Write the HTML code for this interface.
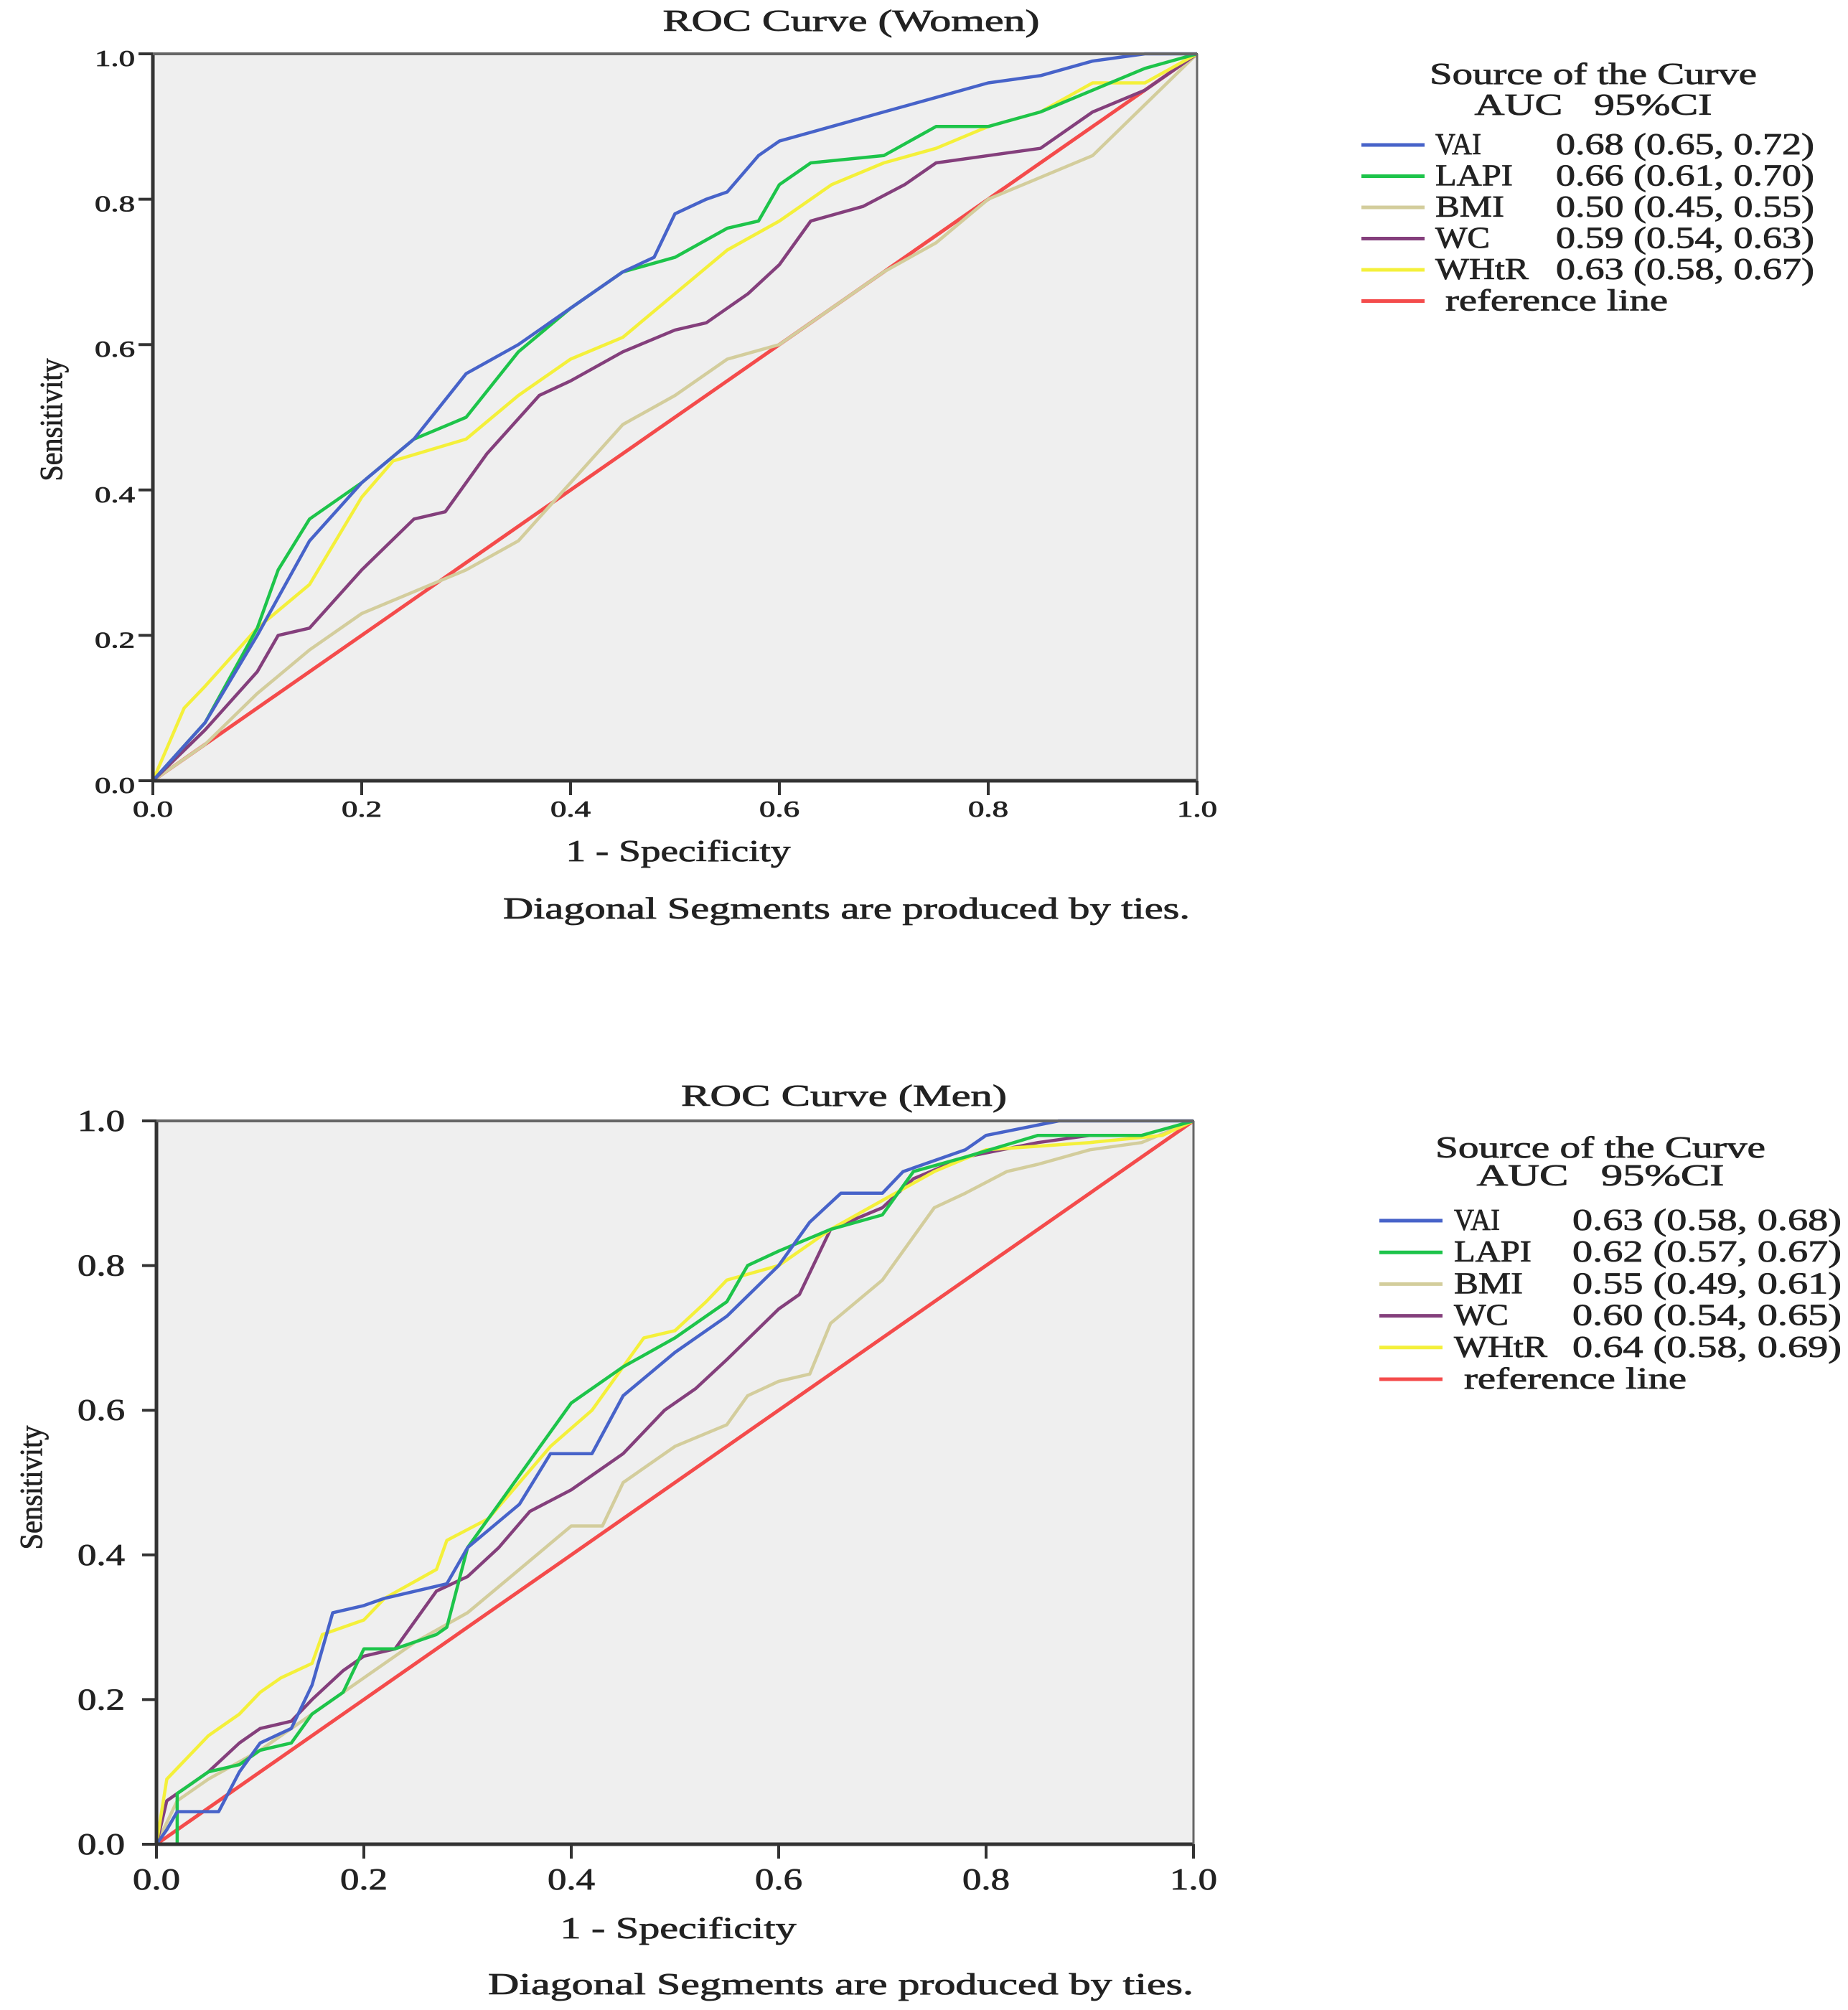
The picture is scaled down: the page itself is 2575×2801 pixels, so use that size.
<!DOCTYPE html>
<html><head><meta charset="utf-8"><title>ROC Curves</title>
<style>
html,body{margin:0;padding:0;background:#fff;}
svg{display:block;font-family:"Liberation Serif",serif;}
svg text{stroke:#222;stroke-width:0.8px;}
</style></head>
<body>
<svg id="fig" width="2575" height="2801" viewBox="0 0 2575 2801" xmlns="http://www.w3.org/2000/svg"></svg>
<script>
// ---- Data: Women ----
const wVAI_x  = [0,0.05,0.1,0.15,0.2,0.25,0.3,0.35,0.4,0.45,0.48,0.5,0.53,0.55,0.58,0.6,0.65,0.7,0.75,0.8,0.85,0.9,0.95,1];
const wVAI_y  = [0,0.08,0.2,0.33,0.41,0.47,0.56,0.6,0.65,0.7,0.72,0.78,0.8,0.81,0.86,0.88,0.9,0.92,0.94,0.96,0.97,0.99,1,1];
const wLAPI_x = [0,0.05,0.1,0.12,0.15,0.2,0.25,0.3,0.35,0.4,0.45,0.5,0.55,0.58,0.6,0.63,0.7,0.75,0.8,0.85,0.9,0.95,1];
const wLAPI_y = [0,0.08,0.21,0.29,0.36,0.41,0.47,0.5,0.59,0.65,0.7,0.72,0.76,0.77,0.82,0.85,0.86,0.9,0.9,0.92,0.95,0.98,1];
const wBMI_x  = [0,0.05,0.1,0.15,0.2,0.25,0.3,0.35,0.4,0.45,0.5,0.55,0.6,0.65,0.7,0.75,0.8,0.85,0.9,0.95,1];
const wBMI_y  = [0,0.05,0.12,0.18,0.23,0.26,0.29,0.33,0.41,0.49,0.53,0.58,0.6,0.65,0.7,0.74,0.8,0.83,0.86,0.93,1];
const wWC_x   = [0,0.05,0.1,0.12,0.15,0.2,0.25,0.28,0.32,0.37,0.4,0.45,0.5,0.53,0.57,0.6,0.63,0.68,0.72,0.75,0.8,0.85,0.9,0.95,1];
const wWC_y   = [0,0.07,0.15,0.2,0.21,0.29,0.36,0.37,0.45,0.53,0.55,0.59,0.62,0.63,0.67,0.71,0.77,0.79,0.82,0.85,0.86,0.87,0.92,0.95,1];
const wWHtR_x = [0,0.03,0.05,0.1,0.15,0.2,0.23,0.3,0.35,0.4,0.45,0.5,0.55,0.6,0.65,0.7,0.75,0.8,0.85,0.9,0.95,1];
const wWHtR_y = [0,0.1,0.13,0.21,0.27,0.39,0.44,0.47,0.53,0.58,0.61,0.67,0.73,0.77,0.82,0.85,0.87,0.9,0.92,0.96,0.96,1];
// ---- Data: Men ----
const mVAI_x  = [0,0.01,0.02,0.06,0.08,0.1,0.13,0.15,0.17,0.2,0.22,0.25,0.28,0.3,0.35,0.38,0.42,0.45,0.5,0.55,0.6,0.63,0.66,0.7,0.72,0.78,0.8,0.87,1];
const mVAI_y  = [0,0.02,0.045,0.045,0.1,0.14,0.16,0.22,0.32,0.33,0.34,0.35,0.36,0.41,0.47,0.54,0.54,0.62,0.68,0.73,0.8,0.86,0.9,0.9,0.93,0.96,0.98,1,1];
const mLAPI_x = [0,0.02,0.02,0.05,0.08,0.1,0.13,0.15,0.18,0.2,0.23,0.27,0.28,0.3,0.33,0.37,0.4,0.43,0.45,0.5,0.55,0.57,0.6,0.65,0.7,0.73,0.78,0.85,0.95,1];
const mLAPI_y = [0,0,0.07,0.1,0.11,0.13,0.14,0.18,0.21,0.27,0.27,0.29,0.3,0.41,0.47,0.55,0.61,0.64,0.66,0.7,0.75,0.8,0.82,0.85,0.87,0.93,0.95,0.98,0.98,1];
const mBMI_x  = [0,0.02,0.05,0.1,0.15,0.2,0.25,0.3,0.35,0.4,0.43,0.45,0.5,0.55,0.57,0.6,0.63,0.65,0.7,0.72,0.75,0.78,0.82,0.85,0.9,0.95,1];
const mBMI_y  = [0,0.06,0.09,0.13,0.18,0.23,0.28,0.32,0.38,0.44,0.44,0.5,0.55,0.58,0.62,0.64,0.65,0.72,0.78,0.82,0.88,0.9,0.93,0.94,0.96,0.97,1];
const mWC_x   = [0,0.01,0.05,0.08,0.1,0.13,0.15,0.18,0.2,0.23,0.27,0.3,0.33,0.36,0.4,0.45,0.49,0.52,0.55,0.6,0.62,0.65,0.7,0.73,0.78,0.85,0.9];
const mWC_y   = [0,0.06,0.1,0.14,0.16,0.17,0.2,0.24,0.26,0.27,0.35,0.37,0.41,0.46,0.49,0.54,0.6,0.63,0.67,0.74,0.76,0.85,0.88,0.92,0.95,0.97,0.98];
const mWHtR_x = [0,0.01,0.05,0.08,0.1,0.12,0.15,0.16,0.2,0.22,0.27,0.28,0.32,0.35,0.38,0.42,0.47,0.5,0.53,0.55,0.6,0.65,0.7,0.75,0.8,0.9,0.97,1];
const mWHtR_y = [0,0.09,0.15,0.18,0.21,0.23,0.25,0.29,0.31,0.34,0.38,0.42,0.45,0.5,0.55,0.6,0.7,0.71,0.75,0.78,0.8,0.85,0.89,0.93,0.96,0.97,0.98,1];
const refX = [0,1];
const refY = [0,1];
const tickLabels = ["0.0","0.2","0.4","0.6","0.8","1.0"];
const tickValues = [0,0.2,0.4,0.6,0.8,1.0];
const seriesNames = ["VAI","LAPI","BMI","WC","WHtR"];
const womenAUC = ["0.68 (0.65, 0.72)","0.66 (0.61, 0.70)","0.50 (0.45, 0.55)","0.59 (0.54, 0.63)","0.63 (0.58, 0.67)"];
const menAUC   = ["0.63 (0.58, 0.68)","0.62 (0.57, 0.67)","0.55 (0.49, 0.61)","0.60 (0.54, 0.65)","0.64 (0.58, 0.69)"];

const COLORS = {VAI:"#4763c9",LAPI:"#1dc44a",BMI:"#d3cd9c",WC:"#843f7c",WHtR:"#f4f03a",ref:"#f44b4b"};
const NS = "http://www.w3.org/2000/svg";
const svg = document.getElementById('fig');

function el(tag, attrs, parent){
  const e = document.createElementNS(NS, tag);
  for (const k in attrs) e.setAttribute(k, attrs[k]);
  (parent||svg).appendChild(e);
  return e;
}
function txt(s, x, y, size, len, anchor, parent){
  const t = el('text', {x:x, y:y, 'font-size':size, fill:'#222', 'text-anchor':anchor||'start'}, parent);
  if (len){ t.setAttribute('textLength', len); t.setAttribute('lengthAdjust','spacingAndGlyphs'); }
  t.setAttribute('xml:space','preserve');
  t.style.whiteSpace = 'pre';
  t.textContent = s;
  return t;
}

function drawChart(cfg){
  const g = el('g', {});
  
  
  const L=cfg.L, R=cfg.R, T=cfg.T, B=cfg.B;
  const sx = v => L + v*(R-L);
  const sy = v => B - v*(B-T);
  const bg = el('rect', {x:L, y:T, width:R-L, height:B-T, fill:'#efefef'}, g);
  
  
  const ref = el('polyline', {points: refX.map((x,i)=>sx(x)+','+sy(refY[i])).join(' '), fill:'none', stroke:COLORS.ref, 'stroke-width':5}, g);
  
  
  const order = ["BMI","WC","WHtR","LAPI","VAI"];
  order.forEach(n => {
    const xs = cfg.data[n][0], ys = cfg.data[n][1];
    const pts = xs.map((x,i)=>sx(x).toFixed(1)+','+sy(ys[i]).toFixed(1)).join(' ');
    const p = el('polyline', {points:pts, fill:'none', stroke:COLORS[n], 'stroke-width':4.5, 'stroke-linejoin':'round'}, g);
    
    
  });
  el('rect', {x:L, y:T, width:R-L, height:B-T, fill:'none', stroke:'#555', 'stroke-width':2}, g);
  const xa = el('line', {x1:L, y1:B, x2:R, y2:B, stroke:'#333', 'stroke-width':5}, g);
  
  
  const ya = el('line', {x1:L, y1:T, x2:L, y2:B, stroke:'#333', 'stroke-width':5}, g);
  
  
  el('line', {x1:L, y1:T, x2:R, y2:T, stroke:'#666', 'stroke-width':4}, g);
  el('line', {x1:R, y1:T, x2:R, y2:B, stroke:'#666', 'stroke-width':3}, g);
  tickValues.forEach((v,i) => {
    el('line', {x1:sx(v), y1:B, x2:sx(v), y2:B+20, stroke:'#333', 'stroke-width':4}, g);
    el('line', {x1:L-20, y1:sy(v), x2:L, y2:sy(v), stroke:'#333', 'stroke-width':4}, g);
    const xl = txt(tickLabels[i], sx(v), cfg.xTickY, cfg.tickSize, cfg.tickW, 'middle', g);
    
    
    const yl = txt(tickLabels[i], cfg.yTickX, sy(v)+cfg.yTickOff, cfg.tickSize, cfg.tickW, 'end', g);
    
    
  });
  const title = txt(cfg.title, cfg.titleX, cfg.titleY, 42, cfg.titleW, 'middle', g);
  
  
  const xt = txt('1 - Specificity', cfg.xtX, cfg.xtY, 42, cfg.xtW, 'middle', g);
  
  
  const yt = txt('Sensitivity', 0, 0, 44, cfg.ytW, 'middle', g);
  yt.setAttribute('transform', 'translate('+cfg.ytX+','+cfg.ytY+') rotate(-90)');
  
  
  const note = txt('Diagonal Segments are produced by ties.', cfg.noteX, cfg.noteY, 42, cfg.noteW, 'start', g);
  
  
  const lg = el('g', {}, g);
  
  
  txt('Source of the Curve', cfg.lgHeadX, cfg.lgHead1, 42, cfg.lgHeadW, 'middle', lg);
  txt('AUC   95%CI', cfg.lgHeadX, cfg.lgHead2, 42, cfg.lgHead2W, 'middle', lg);
  const rows = seriesNames.concat(['reference']);
  rows.forEach((n,i) => {
    const y = cfg.lgRow0 + i*cfg.lgStep;
    const item = el('g', {}, lg);
    
    
    el('line', {x1:cfg.lgLine0, y1:y-13, x2:cfg.lgLine1, y2:y-13, stroke:COLORS[n==='reference'?'ref':n], 'stroke-width':5}, item);
    if (n === 'reference'){
      txt('reference line', cfg.lgText+14, y, 42, 310, 'start', item);
    } else {
      txt(n, cfg.lgText, y, 42, [64,108,96,76,130][i], 'start', item);
      txt(cfg.auc[i], cfg.lgValEnd, y, 42, cfg.lgValW, 'end', item);
    }
  });
}

drawChart({
  name:'roc-chart-women', title:'ROC Curve (Women)',
  L:213, R:1668, T:75, B:1088,
  data:{VAI:[wVAI_x,wVAI_y],LAPI:[wLAPI_x,wLAPI_y],BMI:[wBMI_x,wBMI_y],WC:[wWC_x,wWC_y],WHtR:[wWHtR_x,wWHtR_y]},
  xTickY:1138, yTickX:188, yTickOff:17, tickSize:32, tickW:56,
  titleX:1186, titleY:43, titleW:525,
  xtX:945, xtY:1200, xtW:313,
  ytX:86, ytY:585, ytW:171,
  noteX:701, noteY:1280, noteW:957,
  lgHeadX:2220, lgHead1:117, lgHead2:160, lgHeadW:456, lgHead2W:331,
  lgRow0:215, lgStep:43.5, lgLine0:1897, lgLine1:1985, lgText:2000, lgValEnd:2528, lgValW:360,
  auc:womenAUC
});

drawChart({
  name:'roc-chart-men', title:'ROC Curve (Men)',
  L:218, R:1663, T:1562, B:2570,
  data:{VAI:[mVAI_x,mVAI_y],LAPI:[mLAPI_x,mLAPI_y],BMI:[mBMI_x,mBMI_y],WC:[mWC_x,mWC_y],WHtR:[mWHtR_x,mWHtR_y]},
  xTickY:2633, yTickX:174, yTickOff:14, tickSize:42, tickW:66,
  titleX:1176, titleY:1541, titleW:454,
  xtX:945, xtY:2701, xtW:329,
  ytX:58, ytY:2073, ytW:173,
  noteX:680, noteY:2779, noteW:983,
  lgHeadX:2230, lgHead1:1613, lgHead2:1652, lgHeadW:460, lgHead2W:345,
  lgRow0:1714, lgStep:44.2, lgLine0:1922, lgLine1:2010, lgText:2026, lgValEnd:2566, lgValW:375,
  auc:menAUC
});
</script>
</body></html>
